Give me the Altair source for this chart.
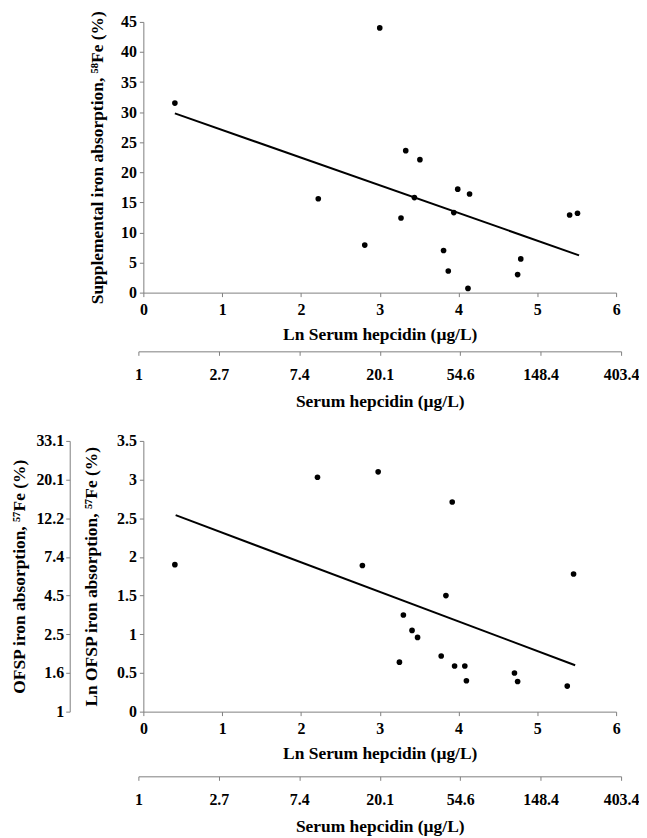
import json
import altair as alt
import pandas as pd

# ---- data ----
ln_hep_top = [0.40, 2.22, 2.81, 3.00, 3.27, 3.33, 3.44, 3.51, 3.81, 3.87, 3.94, 3.99, 4.12, 4.14, 4.75, 4.79, 5.41, 5.51]
supp_abs = [31.5, 15.6, 7.9, 44.0, 12.4, 23.6, 15.8, 22.1, 7.0, 3.6, 13.3, 17.2, 0.7, 16.4, 3.0, 5.6, 12.9, 13.2]
top_fit_x = [0.40, 5.53]
top_fit_y = [29.8, 6.2]

ln_hep_bot = [0.40, 2.21, 2.78, 2.98, 3.25, 3.30, 3.41, 3.48, 3.78, 3.84, 3.92, 3.95, 4.08, 4.10, 4.71, 4.75, 5.38, 5.46]
ln_ofsp = [1.90, 3.03, 1.89, 3.10, 0.64, 1.25, 1.05, 0.96, 0.72, 1.50, 2.71, 0.59, 0.59, 0.40, 0.50, 0.39, 0.33, 1.78]
bot_fit_x = [0.41, 5.48]
bot_fit_y = [2.54, 0.60]

ln_x_ticks = [0, 1, 2, 3, 4, 5, 6]
hep_labels = ["1", "2.7", "7.4", "20.1", "54.6", "148.4", "403.4"]
supp_ticks = [0, 5, 10, 15, 20, 25, 30, 35, 40, 45]
ln_y_ticks = [0, 0.5, 1, 1.5, 2, 2.5, 3, 3.5]
ln_y_labels = ["0", "0.5", "1", "1.5", "2", "2.5", "3", "3.5"]
ofsp_labels = ["1", "1.6", "2.5", "4.5", "7.4", "12.2", "20.1", "33.1"]

FONT = "Liberation Serif"
W, H = 475, 272

top_df = pd.DataFrame({"x": ln_hep_top, "y": supp_abs})
top_fit = pd.DataFrame({"x": top_fit_x, "y": top_fit_y})
bot_df = pd.DataFrame({"x": ln_hep_bot, "y": ln_ofsp})
bot_fit = pd.DataFrame({"x": bot_fit_x, "y": bot_fit_y})
xt_df = pd.DataFrame({"v": ln_x_ticks})
yt_df = pd.DataFrame({"w": ln_y_ticks})

hep_expr = json.dumps(hep_labels) + "[round(datum.value)]"
lny_expr = json.dumps(ln_y_labels) + "[round(datum.value*2)]"
ofsp_expr = json.dumps(ofsp_labels) + "[round(datum.value*2)]"

xscale = alt.Scale(domain=[0, 6], nice=False, zero=False)


def x_primary():
    return alt.X("x:Q", scale=xscale,
                 axis=alt.Axis(values=ln_x_ticks, title="Ln Serum hepcidin (µg/L)",
                               labelPadding=5, titlePadding=8, labelFlush=False))


def sec_x_layer(offset):
    return alt.Chart(xt_df).mark_point(opacity=0).encode(
        x=alt.X("v:Q", scale=alt.Scale(domain=[0, 6], range=[-5, 480], nice=False, zero=False),
                axis=alt.Axis(orient="bottom", offset=offset, values=ln_x_ticks,
                              labelExpr=hep_expr, title="Serum hepcidin (µg/L)",
                              labelPadding=11, titlePadding=10, labelFlush=False))
    )


# ---- top panel ----
ysc_t = alt.Scale(domain=[0, 45], nice=False)
top_pts = alt.Chart(top_df).mark_circle(size=32, color="black", opacity=1).encode(
    x=x_primary(),
    y=alt.Y("y:Q", scale=ysc_t,
            axis=alt.Axis(values=supp_ticks,
                          title="Supplemental iron absorption, ⁵⁸Fe (%)",
                          labelPadding=3, titlePadding=14)),
)
top_line = alt.Chart(top_fit).mark_line(color="black", strokeWidth=2).encode(
    x=alt.X("x:Q", scale=xscale, axis=None),
    y=alt.Y("y:Q", scale=ysc_t, axis=None),
)
top = alt.layer(top_pts, top_line, sec_x_layer(59)).resolve_scale(
    x="independent", y="independent").properties(width=W, height=H)

# ---- bottom panel ----
yscale_b = alt.Scale(domain=[0, 3.5], nice=False)
bot_pts = alt.Chart(bot_df).mark_circle(size=32, color="black", opacity=1).encode(
    x=x_primary(),
    y=alt.Y("y:Q", scale=yscale_b,
            axis=alt.Axis(values=ln_y_ticks, labelExpr=lny_expr,
                          title="Ln OFSP iron absorption, ⁵⁷Fe (%)",
                          labelPadding=3, titlePadding=16)),
)
bot_line = alt.Chart(bot_fit).mark_line(color="black", strokeWidth=2).encode(
    x=alt.X("x:Q", scale=xscale, axis=None),
    y=alt.Y("y:Q", scale=yscale_b, axis=None),
)
outer_y = alt.Chart(yt_df).mark_point(opacity=0).encode(
    y=alt.Y("w:Q", scale=alt.Scale(domain=[0, 3.5], nice=False),
            axis=alt.Axis(orient="left", offset=74, values=ln_y_ticks, labelExpr=ofsp_expr,
                          title="OFSP iron absorption, ⁵⁷Fe (%)",
                          labelPadding=2, titlePadding=7))
)
bottom = alt.layer(bot_pts, bot_line, sec_x_layer(65), outer_y).resolve_scale(
    x="independent", y="independent").properties(width=W, height=H)

chart = alt.vconcat(top, bottom, spacing=23).properties(
    padding={"left": 3, "top": 0, "right": 0, "bottom": 2}
).configure_view(stroke=None).configure_axis(
    grid=False,
    domainColor="#7f7f7f",
    tickColor="#7f7f7f",
    tickSize=4,
    labelFont=FONT,
    labelFontSize=16,
    labelFontWeight="bold",
    labelColor="black",
    titleFont=FONT,
    titleFontSize=17.5,
    titleFontWeight="bold",
    titleColor="black",
)

chart.save("out.html", embed_options={"renderer": "svg", "actions": False})
